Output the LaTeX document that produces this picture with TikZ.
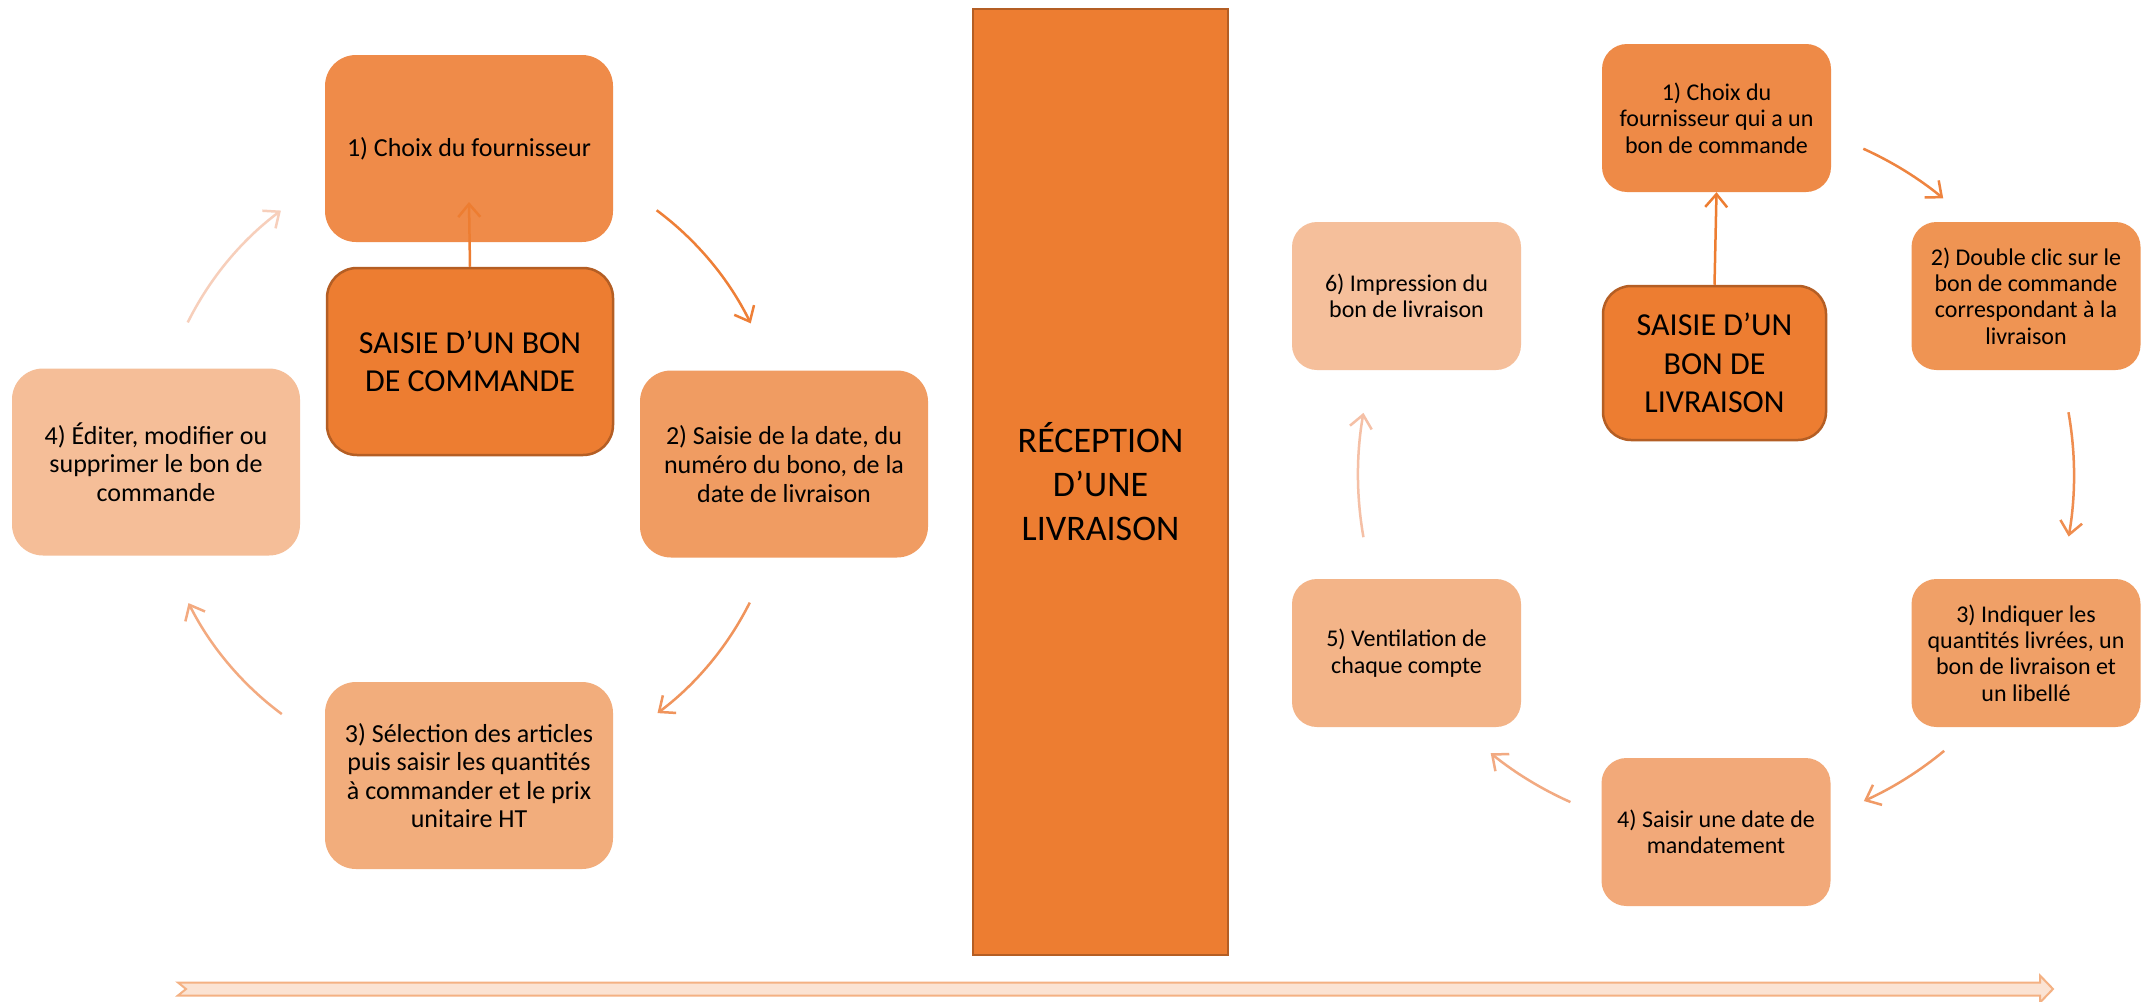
\documentclass[tikz,border=0pt]{standalone}
\usepackage{fontspec}
\setmainfont{Carlito}
\usetikzlibrary{arrows.meta}
\definecolor{hubfill}{HTML}{ED7D31}
\definecolor{hubline}{HTML}{B45E24}
\definecolor{cA}{HTML}{EF8B49}
\definecolor{cB}{HTML}{F09C62}
\definecolor{cC}{HTML}{F2AD7C}
\definecolor{cD}{HTML}{F5BE98}
\definecolor{rA}{HTML}{EE8A47}
\definecolor{rB}{HTML}{EF9453}
\definecolor{rC}{HTML}{F0A067}
\definecolor{rD}{HTML}{F2A979}
\definecolor{rE}{HTML}{F3B488}
\definecolor{rF}{HTML}{F5BF9B}
\definecolor{aA}{HTML}{EE7F37}
\definecolor{aB}{HTML}{F0945C}
\definecolor{aC}{HTML}{F3AA80}
\definecolor{aD}{HTML}{F7CFBB}
\definecolor{bA}{HTML}{EE8440}
\definecolor{bB}{HTML}{EF8D4F}
\definecolor{bC}{HTML}{F09A66}
\definecolor{bD}{HTML}{F2AA82}
\definecolor{bE}{HTML}{F5C0A6}
\definecolor{tlfill}{HTML}{FBE3D3}
\definecolor{tlline}{HTML}{F4B183}
\begin{document}
\begin{tikzpicture}[x=1pt,y=1pt,
  lbox/.style={rounded corners=31pt, minimum width=288pt, minimum height=187pt,
    inner sep=0pt, align=center, font=\fontsize{26}{28.6}\selectfont},
  rbox/.style={rounded corners=25pt, minimum width=229pt, minimum height=148pt,
    inner sep=0pt, align=center, font=\fontsize{24}{26.4}\selectfont},
  hub/.style={fill=hubfill, draw=hubline, line width=2.5pt, inner sep=0pt,
    align=center, font=\fontsize{32}{38.5}\selectfont},
  cyc/.style={line width=2.5pt, -{Straight Barb[length=13pt,width=22pt]}},
  up/.style={draw=hubfill, line width=2.5pt, -{Straight Barb[length=13pt,width=22pt]}}
]
\useasboundingbox (0,0) rectangle (2143,-1001);
\fill[white] (0,0) rectangle (2143,-1001);

% ---------- left cycle ----------
\coordinate (cL) at (469,-462);
\node[lbox, fill=cA] (L1) at (469,-148.5) {1) Choix du fournisseur};
\node[lbox, fill=cB] (L2) at (784,-464) {2) Saisie de la date, du\\numéro du bono, de la\\date de livraison};
\node[lbox, fill=cC] (L3) at (469,-775.5) {3) Sélection des articles\\puis saisir les quantités\\à commander et le prix\\unitaire HT};
\node[lbox, fill=cD] (L4) at (156,-462) {4) Éditer, modifier ou\\supprimer le bon de\\commande};
\node[hub, rounded corners=30pt, minimum width=286pt, minimum height=187pt] (LC) at (470,-361.5) {SAISIE D’UN BON\\DE COMMANDE};
\coordinate (LCtip) at (469,-202);
\draw[up] (LC.north) -- (LCtip);

\draw[cyc, draw=aA] ([shift={(53.3:314)}]cL) arc[start angle=53.3, end angle=26.2, radius=314];
\draw[cyc, draw=aB] ([shift={(-26.6:314)}]cL) arc[start angle=-26.6, end angle=-53.1, radius=314];
\draw[cyc, draw=aC] ([shift={(-126.6:314)}]cL) arc[start angle=-126.6, end angle=-153.3, radius=314];
\draw[cyc, draw=aD] ([shift={(153.6:314)}]cL) arc[start angle=153.6, end angle=126.8, radius=314];

% ---------- middle bar ----------
\node[fill=hubfill, draw=hubline, line width=2.5pt, minimum width=255pt, minimum height=946pt,
  inner sep=0pt, align=center, font=\fontsize{36}{44}\selectfont] (bar) at (1100.5,-482)
  {RÉCEPTION\\D’UNE\\LIVRAISON};

% ---------- right cycle ----------
\coordinate (cR) at (1716,-475);
\node[rbox, fill=rA] (R1) at (1716.5,-118) {1) Choix du\\fournisseur qui a un\\bon de commande};
\node[rbox, fill=rB] (R2) at (2026,-296) {2) Double clic sur le\\bon de commande\\correspondant à la\\livraison};
\node[rbox, fill=rC] (R3) at (2026,-653) {3) Indiquer les\\quantités livrées, un\\bon de livraison et\\un libellé};
\node[rbox, fill=rD] (R4) at (1716,-832) {4) Saisir une date de\\mandatement};
\node[rbox, fill=rE] (R5) at (1406.5,-653) {5) Ventilation de\\chaque compte};
\node[rbox, fill=rF] (R6) at (1406.5,-296) {6) Impression du\\bon de livraison};
\node[hub, rounded corners=28pt, minimum width=223pt, minimum height=154pt] (RC) at (1714.5,-363) {SAISIE D’UN\\BON DE\\LIVRAISON};
\draw[up] (RC.north) -- (R1.south);

\draw[cyc, draw=bA] ([shift={(65.7:358)}]cR) arc[start angle=65.7, end angle=50.6, radius=358];
\draw[cyc, draw=bB] ([shift={(10.1:358)}]cR) arc[start angle=10.1, end angle=-9.9, radius=358];
\draw[cyc, draw=bC] ([shift={(-50.4:358)}]cR) arc[start angle=-50.4, end angle=-65.6, radius=358];
\draw[cyc, draw=bD] ([shift={(-114:358)}]cR) arc[start angle=-114, end angle=-129, radius=358];
\draw[cyc, draw=bE] ([shift={(-170:358)}]cR) arc[start angle=-170, end angle=-190, radius=358];

% ---------- timeline arrow ----------
\draw[fill=tlfill, draw=tlline, line width=2pt, line join=miter]
  (178,-982.5) -- (2040,-982.5) -- (2040,-975.5) -- (2053,-989) -- (2040,-1002.5)
  -- (2040,-995.5) -- (178,-995.5) -- (186,-989) -- cycle;
\end{tikzpicture}
\end{document}
